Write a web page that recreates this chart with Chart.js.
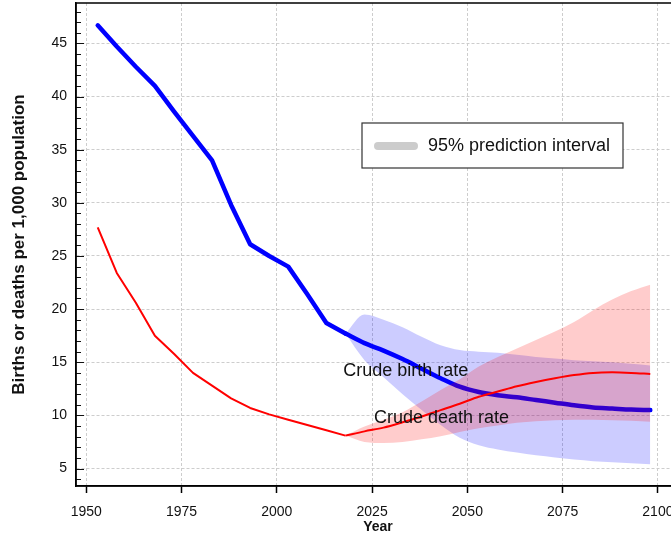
<!DOCTYPE html>
<html>
<head>
<meta charset="utf-8">
<script src="https://cdn.jsdelivr.net/npm/chart.js@4/dist/chart.umd.min.js"></script>
<style>
  html, body { margin: 0; padding: 0; background: #fff; overflow: hidden; }
  #wrap { width: 700px; height: 540px; }
</style>
</head>
<body>
<div id="wrap"><canvas id="chart" width="700" height="540"></canvas></div>
<script>
// observed estimates (5-year periods, plotted at mid-period)
const histYears = [1953, 1958, 1963, 1968, 1973, 1978, 1983, 1988, 1993, 1998, 2003, 2008, 2013, 2018];
const birthHist = [46.7, 44.7, 42.8, 41.0, 38.6, 36.3, 34.0, 29.8, 26.1, 25.0, 24.0, 21.4, 18.7, 17.7];
const deathHist = [27.7, 23.4, 20.6, 17.5, 15.8, 14.0, 12.8, 11.6, 10.7, 10.1, 9.6, 9.1, 8.6, 8.1];

// projections with 95% prediction intervals
const projYears = [2018, 2023, 2028, 2033, 2038, 2043, 2048, 2053, 2058, 2063, 2068, 2073, 2078, 2083, 2088, 2093, 2098];
const birthProj = [17.7, 16.8, 16.1, 15.3, 14.4, 13.5, 12.7, 12.2, 11.9, 11.7, 11.45, 11.2, 10.95, 10.75, 10.65, 10.55, 10.5];
const birthLow  = [17.7, 15.2, 13.6, 12.0, 10.5, 9.1, 7.9, 7.2, 6.8, 6.5, 6.25, 6.05, 5.85, 5.7, 5.6, 5.5, 5.4];
const birthHigh = [17.7, 19.5, 19.0, 18.3, 17.4, 16.6, 16.15, 16.0, 15.9, 15.7, 15.5, 15.35, 15.2, 15.1, 15.0, 14.85, 14.7];
const deathProj = [8.1, 8.5, 8.85, 9.35, 9.9, 10.5, 11.1, 11.75, 12.25, 12.75, 13.15, 13.5, 13.8, 14.0, 14.05, 14.0, 13.9];
const deathLow  = [8.1, 7.5, 7.4, 7.5, 7.75, 8.05, 8.45, 8.8, 9.05, 9.3, 9.45, 9.55, 9.6, 9.6, 9.55, 9.5, 9.4];
const deathHigh = [8.1, 8.95, 9.6, 10.3, 11.3, 12.4, 13.4, 14.6, 15.5, 16.3, 17.1, 17.9, 18.8, 19.9, 20.9, 21.7, 22.3];

// axis ticks
const xTicks = [1950, 1975, 2000, 2025, 2050, 2075, 2100];
const yTicks = [4, 5, 6, 7, 8, 9, 10, 11, 12, 13, 14, 15, 16, 17, 18, 19, 20, 21, 22, 23, 24, 25, 26,
                27, 28, 29, 30, 31, 32, 33, 34, 35, 36, 37, 38, 39, 40, 41, 42, 43, 44, 45, 46, 47, 48];

const birthLabel = 'Crude birth rate';
const deathLabel = 'Crude death rate';
const legendLabel = '95% prediction interval';

const pts = (xs, ys) => xs.map((x, i) => ({ x: x, y: ys[i] }));

const FONT = '"Liberation Sans", Arial, Helvetica, sans-serif';
Chart.defaults.font.family = FONT;

// draws inner tick marks, frame, legend box and the series labels
const decor = {
  id: 'decor',
  afterDraw(chart) {
    const { ctx, chartArea: a, scales: { x, y } } = chart;
    ctx.save();
    // y ticks pointing into the plot
    ctx.strokeStyle = '#111';
    ctx.lineWidth = 1;
    yTicks.forEach(v => {
      const py = Math.round(y.getPixelForValue(v)) + 0.5;
      const len = v % 5 === 0 ? 8 : 5;
      ctx.beginPath();
      ctx.moveTo(a.left, py);
      ctx.lineTo(a.left + len, py);
      ctx.stroke();
    });
    // frame
    ctx.lineWidth = 1.5;
    ctx.strokeStyle = '#000';
    ctx.strokeRect(a.left, a.top, a.right - a.left, a.bottom - a.top);

    // series labels
    ctx.font = '18px ' + FONT;
    ctx.fillStyle = '#111';
    ctx.textBaseline = 'middle';
    ctx.textAlign = 'left';
    ctx.fillText(birthLabel, x.getPixelForValue(2017.4), y.getPixelForValue(14.15));
    ctx.fillText(deathLabel, x.getPixelForValue(2025.5), y.getPixelForValue(9.8));

    // legend
    ctx.fillStyle = '#fff';
    ctx.fillRect(362, 123, 261, 45);
    ctx.lineWidth = 1.2;
    ctx.strokeStyle = '#333';
    ctx.strokeRect(362, 123, 261, 45);
    ctx.lineCap = 'round';
    ctx.lineWidth = 8;
    ctx.strokeStyle = '#cccccc';
    ctx.beginPath();
    ctx.moveTo(378, 146);
    ctx.lineTo(414, 146);
    ctx.stroke();
    ctx.fillStyle = '#111';
    ctx.fillText(legendLabel, 428, 146);
    ctx.restore();
  }
};

const bandOpts = {
  pointRadius: 0,
  borderWidth: 0,
  borderColor: 'rgba(0,0,0,0)',
  cubicInterpolationMode: 'monotone'
};

new Chart(document.getElementById('chart'), {
  type: 'line',
  data: {
    datasets: [
      { ...bandOpts, data: pts(projYears, birthLow), fill: false, order: 10 },
      { ...bandOpts, data: pts(projYears, birthHigh), fill: 0, backgroundColor: 'rgba(0,0,255,0.2)', order: 9 },
      { data: pts(histYears, birthHist), borderColor: '#0000ff', borderWidth: 4.5, pointRadius: 0,
        tension: 0, borderJoinStyle: 'round', borderCapStyle: 'round', fill: false, order: 8 },
      { data: pts(projYears, birthProj), borderColor: '#0000ff', borderWidth: 4.5, pointRadius: 0,
        cubicInterpolationMode: 'monotone', borderCapStyle: 'round', fill: false, order: 7 },
      { ...bandOpts, data: pts(projYears, deathLow), fill: false, order: 6 },
      { ...bandOpts, data: pts(projYears, deathHigh), fill: 4, backgroundColor: 'rgba(255,0,0,0.2)', order: 5 },
      { data: pts(histYears, deathHist), borderColor: '#ff0000', borderWidth: 2, pointRadius: 0,
        tension: 0, borderJoinStyle: 'round', fill: false, order: 4 },
      { data: pts(projYears, deathProj), borderColor: '#ff0000', borderWidth: 2, pointRadius: 0,
        cubicInterpolationMode: 'monotone', fill: false, order: 3 }
    ]
  },
  options: {
    responsive: false,
    devicePixelRatio: 1,
    animation: false,
    layout: { padding: { top: 3, right: 20, left: 0, bottom: 0 } },
    plugins: {
      legend: { display: false },
      tooltip: { enabled: false },
      filler: { propagate: false }
    },
    scales: {
      x: {
        type: 'linear',
        min: 1947.3,
        max: 2105.8,
        afterBuildTicks: s => { s.ticks = xTicks.map(v => ({ value: v })); },
        afterFit: s => { s.height = 54; s.paddingLeft = 0; s.paddingRight = 0; },
        ticks: { font: { size: 14 }, color: '#111', padding: 11, maxRotation: 0, autoSkip: false,
                 callback: v => String(v) },
        grid: { color: '#cdcdcd', lineWidth: 1, drawTicks: true, tickLength: 7,
                tickColor: '#000', tickWidth: 1.5, tickBorderDash: [] },
        border: { display: true, color: '#000', width: 1.5, dash: [3, 2] },
        title: { display: true, text: 'Year', font: { size: 14, weight: 'bold' }, color: '#111',
                 padding: { top: 0, bottom: 4 } }
      },
      y: {
        min: 3.36,
        max: 48.8,
        afterBuildTicks: s => { s.ticks = yTicks.map(v => ({ value: v })); },
        afterFit: s => { s.width = 76; s.paddingTop = 0; s.paddingBottom = 0; },
        ticks: { font: { size: 14 }, color: '#111', padding: 9, autoSkip: false,
                 callback: v => (v % 5 === 0 ? String(v) : '') },
        grid: { color: c => (c.tick && c.tick.value % 5 === 0 ? '#cdcdcd' : 'rgba(0,0,0,0)'),
                lineWidth: 1, drawTicks: false, tickBorderDash: [] },
        border: { display: true, color: '#000', width: 1.5, dash: [3, 2] },
        title: { display: true, text: 'Births or deaths per 1,000 population',
                 font: { size: 17, weight: 'bold' }, color: '#111', padding: { top: 9, bottom: 0 } }
      }
    }
  },
  plugins: [decor]
});
</script>
</body>
</html>
